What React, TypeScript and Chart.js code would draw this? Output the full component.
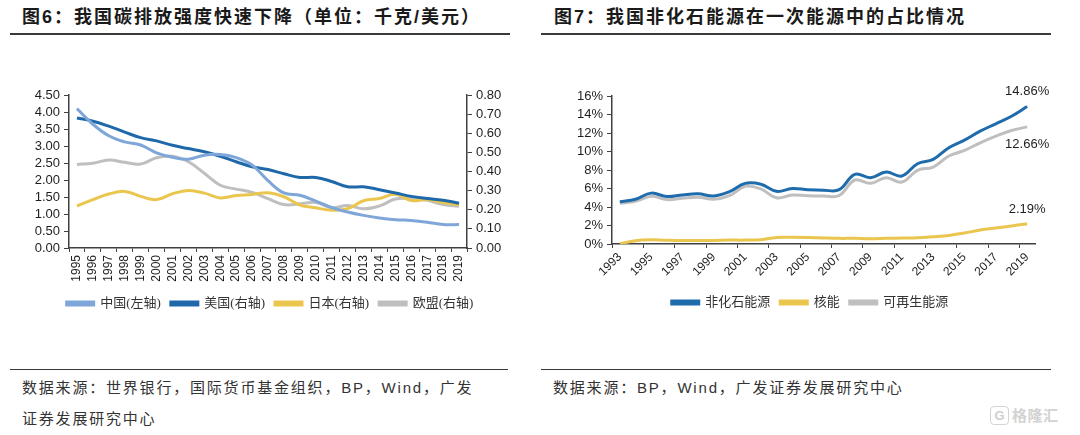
import React, { useEffect, useRef } from 'react';
import { Chart, registerables } from 'chart.js';

Chart.register(...registerables);

// ---------- Data: Figure 6 ----------
const years6 = ['1995','1996','1997','1998','1999','2000','2001','2002','2003','2004','2005','2006','2007','2008','2009','2010','2011','2012','2013','2014','2015','2016','2017','2018','2019'];
const chinaIntensity = [4.10, 3.64, 3.30, 3.12, 3.03, 2.80, 2.67, 2.61, 2.73, 2.75, 2.66, 2.44, 1.98, 1.62, 1.55, 1.38, 1.19, 1.06, 0.96, 0.88, 0.83, 0.81, 0.76, 0.69, 0.69];
const usIntensity = [0.680, 0.663, 0.637, 0.606, 0.577, 0.560, 0.537, 0.520, 0.503, 0.480, 0.451, 0.425, 0.410, 0.388, 0.369, 0.369, 0.348, 0.320, 0.320, 0.305, 0.288, 0.270, 0.259, 0.250, 0.234];
const japanIntensity = [0.219, 0.253, 0.282, 0.296, 0.270, 0.253, 0.284, 0.301, 0.287, 0.262, 0.274, 0.280, 0.289, 0.268, 0.225, 0.210, 0.197, 0.206, 0.247, 0.259, 0.281, 0.248, 0.253, 0.238, 0.225];
const euIntensity = [0.437, 0.443, 0.460, 0.448, 0.439, 0.472, 0.480, 0.451, 0.391, 0.328, 0.308, 0.291, 0.258, 0.227, 0.231, 0.238, 0.210, 0.222, 0.205, 0.220, 0.256, 0.259, 0.249, 0.227, 0.218];
const series6Labels = ['中国(左轴)', '美国(右轴)', '日本(右轴)', '欧盟(右轴)'];

// ---------- Data: Figure 7 ----------
const years7 = ['1993','1994','1995','1996','1997','1998','1999','2000','2001','2002','2003','2004','2005','2006','2007','2008','2009','2010','2011','2012','2013','2014','2015','2016','2017','2018','2019'];
const nonFossilShare = [4.56, 4.84, 5.50, 5.13, 5.31, 5.42, 5.20, 5.67, 6.55, 6.46, 5.70, 5.99, 5.87, 5.82, 5.87, 7.53, 7.17, 7.78, 7.35, 8.68, 9.15, 10.41, 11.23, 12.20, 12.99, 13.81, 14.86];
const nuclearShare = [0.02, 0.36, 0.45, 0.40, 0.39, 0.39, 0.39, 0.42, 0.42, 0.47, 0.70, 0.72, 0.70, 0.65, 0.61, 0.61, 0.57, 0.61, 0.65, 0.68, 0.79, 0.93, 1.18, 1.51, 1.72, 1.94, 2.19];
const renewableShare = [4.40, 4.62, 5.15, 4.80, 4.95, 5.06, 4.84, 5.22, 6.25, 5.95, 5.00, 5.30, 5.22, 5.20, 5.24, 6.92, 6.56, 7.17, 6.70, 7.97, 8.32, 9.51, 10.12, 10.94, 11.66, 12.27, 12.66];
const series7Labels = ['非化石能源', '核能', '可再生能源'];

// ---------- Styles ----------
const LATIN = '"Liberation Sans", Arial, sans-serif';
const MIXED = '"Liberation Sans", Arial, "Noto Sans CJK SC", sans-serif';
const LEGEND_FONT = '"Liberation Serif", "Noto Sans CJK SC", serif';
const CJK = '"Noto Sans CJK SC", "Noto Sans", sans-serif';
const AXIS = '#404040';
const TEXT = '#1e1e1e';

const endLabelPlugin = {
  id: 'endLabels',
  afterDatasetsDraw(chart: any) {
    const offsets = [-15, -14.5, 17.5];
    const ctx = chart.ctx;
    chart.data.datasets.forEach((ds: any, i: number) => {
      const meta = chart.getDatasetMeta(i);
      const pt = meta.data[meta.data.length - 1];
      const val = ds.data[ds.data.length - 1];
      ctx.save();
      ctx.font = `13px ${LATIN}`;
      ctx.fillStyle = TEXT;
      ctx.textAlign = 'center';
      ctx.textBaseline = 'middle';
      ctx.fillText(val.toFixed(2) + '%', pt.x, pt.y + offsets[i]);
      ctx.restore();
    });
  },
};

export default function App() {
  const leftRef = useRef<HTMLCanvasElement>(null);
  const rightRef = useRef<HTMLCanvasElement>(null);

  useEffect(() => {
    const legendLabels = {
      boxWidth: 27,
      boxHeight: 3,
      padding: 10,
      color: '#333',
      font: { family: LEGEND_FONT, size: 13 },
    };

    const c1 = new Chart(leftRef.current!, {
      type: 'line',
      data: {
        labels: years6,
        datasets: [
          { label: series6Labels[0], data: chinaIntensity, yAxisID: 'yL', borderColor: '#7FA6D8', backgroundColor: '#7FA6D8' },
          { label: series6Labels[1], data: usIntensity, yAxisID: 'yR', borderColor: '#1F69AA', backgroundColor: '#1F69AA' },
          { label: series6Labels[2], data: japanIntensity, yAxisID: 'yR', borderColor: '#EAC64E', backgroundColor: '#EAC64E' },
          { label: series6Labels[3], data: euIntensity, yAxisID: 'yR', borderColor: '#BFBFBF', backgroundColor: '#BFBFBF' },
        ],
      },
      options: {
        responsive: false,
        animation: false,
        devicePixelRatio: 1,
        layout: { padding: { top: 95, bottom: 10, left: 0, right: 0 } },
        elements: { point: { radius: 0 }, line: { borderWidth: 3, tension: 0.4 } },
        plugins: {
          legend: { position: 'bottom', labels: legendLabels },
          tooltip: { enabled: false },
        },
        scales: {
          x: {
            offset: true,
            grid: { offset: true, drawOnChartArea: false, tickLength: 4, color: AXIS },
            border: { color: AXIS, width: 1.5 },
            ticks: { minRotation: 90, maxRotation: 90, autoSkip: false, padding: 3, color: TEXT, font: { family: LATIN, size: 12 } },
            afterFit: (s: any) => { s.height = 39; },
          },
          yL: {
            position: 'left',
            min: 0,
            max: 4.5,
            grid: { drawOnChartArea: false, tickLength: 5, color: AXIS },
            border: { color: AXIS, width: 1.5 },
            ticks: { stepSize: 0.5, autoSkip: false, padding: 4, color: TEXT, font: { family: LATIN, size: 13 }, callback: (v: any) => Number(v).toFixed(2) },
            afterFit: (s: any) => { s.width = 69; },
          },
          yR: {
            position: 'right',
            min: 0,
            max: 0.8,
            grid: { drawOnChartArea: false, tickLength: 5, color: AXIS },
            border: { color: AXIS, width: 1.5 },
            ticks: { stepSize: 0.1, autoSkip: false, padding: 4, color: TEXT, font: { family: LATIN, size: 13 }, callback: (v: any) => Number(v).toFixed(2) },
            afterFit: (s: any) => { s.width = 73; },
          },
        },
      } as any,
    });

    const c2 = new Chart(rightRef.current!, {
      type: 'line',
      data: {
        labels: years7,
        datasets: [
          { label: series7Labels[0], data: nonFossilShare, borderColor: '#1F6CAD', backgroundColor: '#1F6CAD' },
          { label: series7Labels[1], data: nuclearShare, borderColor: '#EAC64E', backgroundColor: '#EAC64E' },
          { label: series7Labels[2], data: renewableShare, borderColor: '#BFBFBF', backgroundColor: '#BFBFBF' },
        ],
      },
      options: {
        responsive: false,
        animation: false,
        devicePixelRatio: 1,
        layout: { padding: { top: 96, bottom: 11, left: 0, right: 0 } },
        elements: { point: { radius: 0 }, line: { borderWidth: 3, tension: 0.4 } },
        plugins: {
          legend: { position: 'bottom', labels: legendLabels },
          tooltip: { enabled: false },
        },
        scales: {
          x: {
            offset: true,
            grid: {
              offset: true,
              drawOnChartArea: false,
              tickLength: 4,
              color: AXIS,
              tickColor: (c: any) => (c.index % 2 === 0 ? AXIS : 'rgba(0,0,0,0)'),
            },
            border: { color: AXIS, width: 1.5 },
            ticks: {
              minRotation: 45,
              maxRotation: 45,
              autoSkip: false,
              padding: 2,
              color: TEXT,
              font: { family: LATIN, size: 12 },
              callback: (_v: any, i: number) => (i % 2 === 0 ? years7[i] : ''),
            },
            afterFit: (s: any) => { s.height = 42; },
          },
          y: {
            position: 'left',
            min: 0,
            max: 16,
            grid: { drawOnChartArea: false, tickLength: 5, color: AXIS },
            border: { color: AXIS, width: 1.5 },
            ticks: { stepSize: 2, autoSkip: false, padding: 4, color: TEXT, font: { family: LATIN, size: 13 }, callback: (v: any) => v + '%' },
            afterFit: (s: any) => { s.width = 72; },
          },
          spacer: {
            position: 'right',
            min: 0,
            max: 1,
            grid: { display: false, drawTicks: false },
            border: { display: false },
            ticks: { display: false },
            afterFit: (s: any) => { s.width = 45; },
          },
        },
      } as any,
      plugins: [endLabelPlugin],
    });

    return () => {
      c1.destroy();
      c2.destroy();
    };
  }, []);

  const titleStyle: React.CSSProperties = {
    position: 'absolute',
    top: 6,
    fontFamily: MIXED,
    fontWeight: 700,
    fontSize: 18,
    letterSpacing: 2,
    lineHeight: '22px',
    color: '#1a1a1a',
    whiteSpace: 'nowrap',
  };
  const footStyle: React.CSSProperties = {
    position: 'absolute',
    fontFamily: MIXED,
    fontSize: 15,
    letterSpacing: 1.8,
    lineHeight: '31px',
    color: '#333',
    whiteSpace: 'nowrap',
  };
  const rule = (left: number, top: number, width: number): React.CSSProperties => ({
    position: 'absolute',
    left,
    top,
    width,
    height: 1.5,
    background: '#3a3a3a',
  });

  return (
    <div style={{ position: 'absolute', left: 0, top: 0, width: 1080, height: 435, background: '#fff', overflow: 'hidden' }}>
      <div style={{ ...titleStyle, left: 22 }}>图6：我国碳排放强度快速下降（单位：千克/美元）</div>
      <div style={{ ...titleStyle, left: 554 }}>图7：我国非化石能源在一次能源中的占比情况</div>
      <div style={rule(10, 33, 500)} />
      <div style={rule(541, 33, 510)} />
      <canvas ref={leftRef} width={540} height={330} style={{ position: 'absolute', left: 0, top: 0 }} />
      <canvas ref={rightRef} width={540} height={330} style={{ position: 'absolute', left: 540, top: 0 }} />
      <div style={rule(10, 368.5, 498)} />
      <div style={rule(541, 368.5, 510)} />
      <div style={{ ...footStyle, left: 22, top: 372 }}>
        数据来源：世界银行，国际货币基金组织，BP，Wind，广发
        <br />
        证券发展研究中心
      </div>
      <div style={{ ...footStyle, left: 553, top: 372 }}>数据来源：BP，Wind，广发证券发展研究中心</div>
      <div style={{ position: 'absolute', left: 990, top: 406, width: 17, height: 17, border: '1.5px solid #d4d4d4', borderRadius: 4, color: '#cfcfcf', fontFamily: LATIN, fontWeight: 700, fontSize: 13, lineHeight: '17px', textAlign: 'center' }}>G</div>
      <div style={{ position: 'absolute', left: 1012, top: 404, fontFamily: CJK, fontWeight: 700, fontSize: 15, color: '#d2d2d2', letterSpacing: 0.5, lineHeight: '22px' }}>格隆汇</div>
    </div>
  );
}
